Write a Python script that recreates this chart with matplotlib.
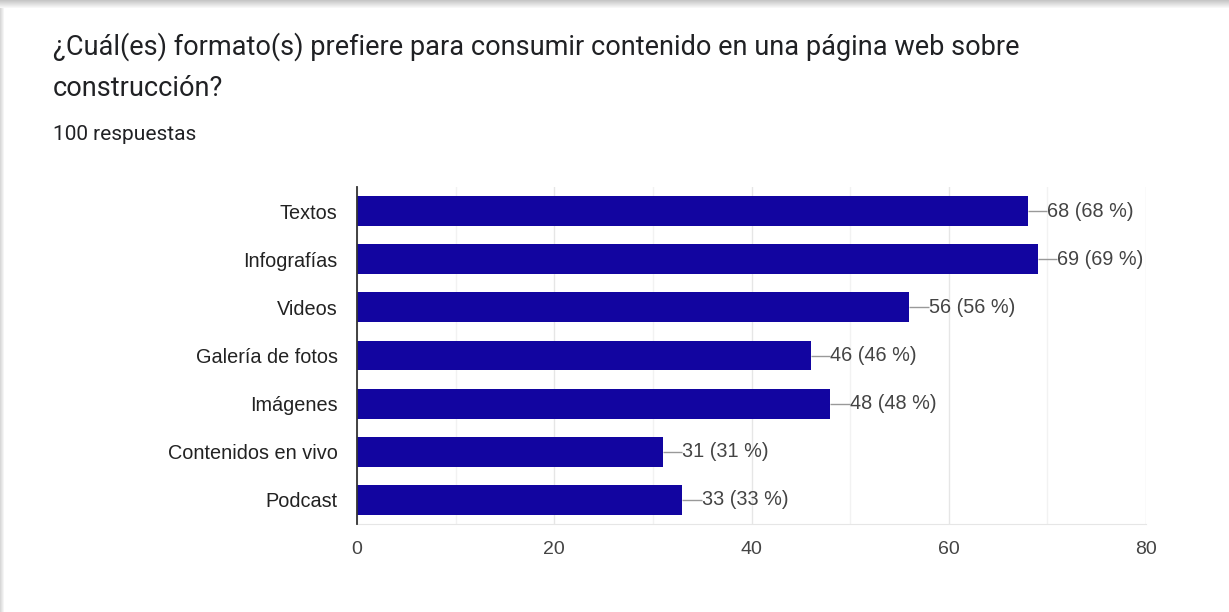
import numpy as np
import matplotlib
matplotlib.use("Agg")
from matplotlib import pyplot as plt

# Réponses au formulaire (100 répondants, choix multiples)
categories = ["Textos", "Infografías", "Videos", "Galería de fotos",
              "Imágenes", "Contenidos en vivo", "Podcast"]
valeurs = [68, 69, 56, 46, 48, 31, 33]
total = 100
ticks_x = [0, 20, 40, 60, 80]

titre_l1 = "¿Cuál(es) formato(s) prefiere para consumir contenido en una página web sobre"
titre_l2 = "construcción?"
sous_titre = f"{total} respuestas"

W, H = 1229, 612
fig = plt.figure(figsize=(W / 100, H / 100), dpi=100, facecolor="white")

# Fond : carte blanche avec une légère ombre en haut et à gauche
fond = fig.add_axes([0, 0, 1, 1])
fond.set_xlim(0, W)
fond.set_ylim(H, 0)
fond.axis("off")
yy, xx = np.mgrid[0:H, 0:W]
ombre = np.zeros((H, W))
ombre += np.clip((8 - yy) / 8, 0, 1) * 0.22 * (yy < 8)
ombre += np.clip((4 - xx) / 4, 0, 1) * 0.15 * (xx < 4) * (yy >= 8)
img = 1 - ombre
fond.imshow(np.dstack([img, img, img]), extent=(0, W, H, 0), aspect="auto",
            interpolation="bilinear")

fig.text(53 / W, 1 - 47 / H, titre_l1, fontsize=19.5, family="Roboto",
         color="#202124", va="center", ha="left")
fig.text(53 / W, 1 - 88 / H, titre_l2, fontsize=19.5, family="Roboto",
         color="#202124", va="center", ha="left")
fig.text(53 / W, 1 - 135 / H, sous_titre, fontsize=15, family="Roboto",
         color="#202124", va="center", ha="left")

ax = fig.add_axes([357 / W, 1 - 524 / H, (1146 - 357) / W, 337 / H])
y = np.arange(len(categories))
ax.barh(y, valeurs, height=0.62, color="#1205a0", zorder=3)
ax.set_xlim(0, 80)
ax.set_ylim(len(categories) - 0.5, -0.5)

# Grille : traits principaux tous les 20, secondaires tous les 10
ax.set_xticks(ticks_x)
ax.set_xticks(np.arange(10, 80, 20), minor=True)
ax.grid(axis="x", which="major", color="#e6e6e6", lw=1, zorder=0)
ax.grid(axis="x", which="minor", color="#f2f2f2", lw=1, zorder=0)
ax.tick_params(axis="x", which="both", length=0, pad=12, labelsize=14,
               labelcolor="#444444")
ax.set_yticks(y)
ax.set_yticklabels(categories)
ax.tick_params(axis="y", length=0, pad=14, labelsize=14.3, labelcolor="#222222")
for lab in ax.get_xticklabels() + ax.get_yticklabels():
    lab.set_family("Liberation Sans")

for s in ["top", "right"]:
    ax.spines[s].set_visible(False)
ax.spines["bottom"].set_color("#e6e6e6")
ax.spines["left"].set_color("#333333")
ax.spines["left"].set_linewidth(1.3)
ax.spines["left"].set_zorder(4)

# Étiquettes de valeur avec un petit trait de rappel
for i, v in enumerate(valeurs):
    ax.plot([v, v + 2.0], [i, i], color="#999999", lw=1, zorder=3,
            solid_capstyle="butt")
    ax.text(v + 2.0, i, f"{v} ({v * 100 // total} %)", va="center", ha="left",
            fontsize=14.3, family="Liberation Sans", color="#444444", zorder=4)

fig.savefig("out.png", dpi=100, facecolor="white")
